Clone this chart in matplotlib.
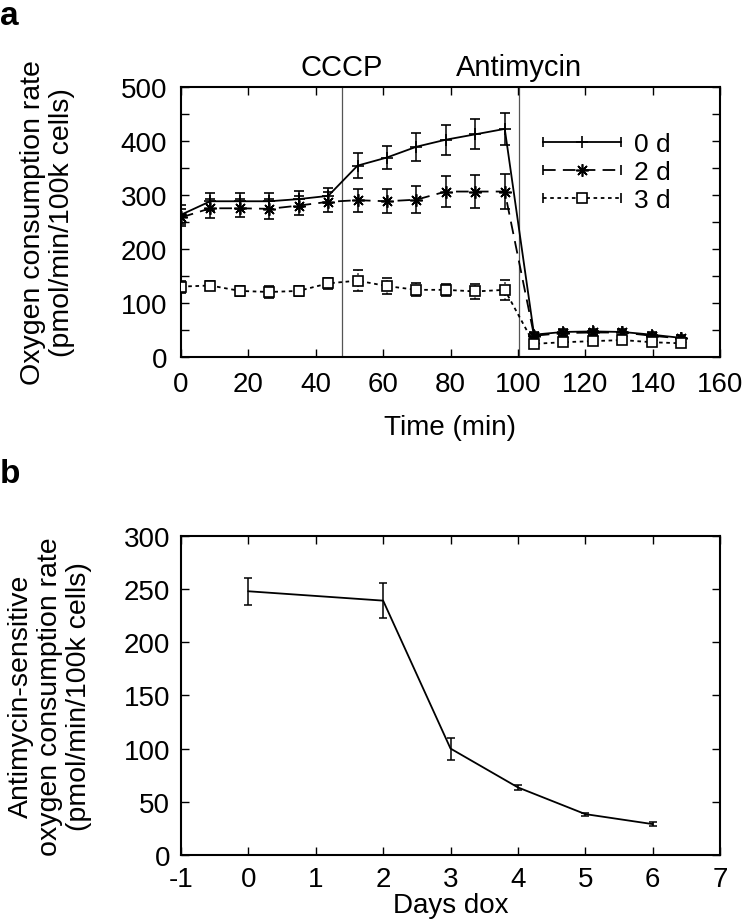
import matplotlib
matplotlib.use("Agg")
import matplotlib.pyplot as plt
from matplotlib.lines import Line2D
from matplotlib.legend_handler import HandlerLine2D
from matplotlib.ticker import MultipleLocator

plt.rcParams['font.family'] = ['Liberation Sans', 'DejaVu Sans']
plt.rcParams['font.size'] = 20
plt.rcParams['axes.unicode_minus'] = False

# panel a: oxygen consumption over time
time_min = [0, 8.7, 17.5, 26.2, 34.9, 43.7, 52.4, 61.1, 69.9, 78.6, 87.4, 96.1,
            104.8, 113.5, 122.3, 131.0, 139.7, 148.5]
ocr_0d = [264, 289, 289, 289, 293, 299, 355, 370, 390, 403, 413, 423,
          42, 47, 48, 47, 42, 36]
err_0d = [18, 16, 15, 15, 15, 14, 23, 22, 26, 28, 28, 29, 5, 5, 5, 5, 5, 5]
ocr_2d = [259, 276, 276, 275, 281, 288, 291, 289, 292, 307, 307, 307,
          40, 45, 46, 46, 40, 35]
err_2d = [16, 18, 17, 18, 18, 18, 21, 22, 25, 29, 30, 32, 5, 5, 5, 5, 5, 5]
ocr_3d = [131, 133, 123, 121, 123, 137, 142, 132, 125, 125, 122, 125,
          25, 28, 30, 32, 28, 26]
err_3d = [11, 9, 10, 11, 9, 10, 19, 14, 12, 11, 14, 19, 6, 6, 6, 6, 6, 6]
cccp_time = 47.7
antimycin_time = 100.2

# panel b: antimycin-sensitive OCR vs days of dox
days = [0, 2, 3, 4, 5, 6]
as_ocr = [247.8, 239, 100, 63.5, 38.4, 29]
as_err = [12.7, 16.7, 10.3, 2, 1.5, 2]


class CapHandler(HandlerLine2D):
    # gnuplot style legend sample: line with error caps at both ends
    def create_artists(self, legend, orig_handle, xdescent, ydescent,
                       width, height, fontsize, trans):
        arts = super().create_artists(legend, orig_handle, xdescent, ydescent,
                                      width, height, fontsize, trans)
        line = arts[0]
        xs = line.get_xdata()
        ys = line.get_ydata()
        caps = Line2D([xs[0], xs[-1]], [ys[0], ys[-1]], ls='none', marker='|',
                      ms=7, mew=1.2, color='k')
        caps.set_transform(trans)
        return list(arts) + [caps]


def style_axes(ax, pad=10):
    for s in ax.spines.values():
        s.set_linewidth(1.5)
    ax.tick_params(which='both', direction='in', top=True, right=True,
                   length=6, width=1, labelsize=20, pad=pad)


fig = plt.figure(figsize=(7.48, 9.2), dpi=100)

ax1 = fig.add_axes([0.242, 0.6105, 0.7206, 0.2935])
ax1.axvline(cccp_time, color='#555555', lw=0.9, zorder=1)
ax1.axvline(antimycin_time, color='#555555', lw=0.9, zorder=1)

series = [
    (ocr_0d, err_0d, '-', '+', 9, 'k', '0 d', '-'),
    (ocr_2d, err_2d, (0, (7, 4)), (8, 2, 0), 9, 'k', '2 d', '-'),
    (ocr_3d, err_3d, (0, (2, 2)), 's', 6.5, 'white', '3 d', ':'),
]
handles = []
for vals, errs, ls, mk, ms, mfc, lab, els in series:
    eb = ax1.errorbar(time_min, vals, yerr=errs, color='k', ls=ls, lw=1.3,
                      marker=mk, ms=ms, mfc=mfc, mec='k', mew=1.2,
                      capsize=3.5, elinewidth=1.1, capthick=1.1, zorder=3)
    eb[2][0].set_linestyle(els)
    handles.append(Line2D([], [], color='k', ls=ls, lw=1.3, marker=mk, ms=ms,
                          mfc=mfc, mec='k', mew=1.2, label=lab))

ax1.set_xlim(0, 160)
ax1.set_ylim(0, 500)
ax1.xaxis.set_major_locator(MultipleLocator(20))
ax1.yaxis.set_major_locator(MultipleLocator(100))
ax1.yaxis.set_minor_locator(MultipleLocator(50))
style_axes(ax1)

ax1.text(cccp_time, 1.044, 'CCCP', transform=ax1.get_xaxis_transform(),
         ha='center', va='baseline', fontsize=21)
ax1.text(antimycin_time, 1.044, 'Antimycin', transform=ax1.get_xaxis_transform(),
         ha='center', va='baseline', fontsize=21)

ax1.legend(handles=handles, loc='upper left', bbox_to_anchor=(0.672, 0.835),
           frameon=False, borderpad=0, borderaxespad=0, handlelength=2.95,
           handletextpad=0.5, labelspacing=0.15, fontsize=19, numpoints=1,
           handler_map={Line2D: CapHandler()})

fig.text(0.602, 0.5348, 'Time (min)', ha='center', va='center', fontsize=20)
fig.text(0.064, 0.7576, 'Oxygen consumption rate\n(pmol/min/100k cells)',
         rotation=90, ha='center', va='center', ma='center', fontsize=20.5,
         linespacing=1.15)

ax2 = fig.add_axes([0.242, 0.0696, 0.7206, 0.347])
ax2.errorbar(days, as_ocr, yerr=as_err, color='k', lw=1.3, capsize=3,
             elinewidth=1.1, capthick=1.1)
ax2.set_xlim(-1, 7)
ax2.set_ylim(0, 300)
ax2.xaxis.set_major_locator(MultipleLocator(1))
ax2.yaxis.set_major_locator(MultipleLocator(50))
style_axes(ax2, pad=8)

fig.text(0.602, 0.0075, 'Days dox', ha='center', va='baseline', fontsize=20)
fig.text(0.067, 0.243,
         'Antimycin-sensitive\noxygen consumption rate\n(pmol/min/100k cells)',
         rotation=90, ha='center', va='center', ma='center', fontsize=20.5,
         linespacing=1.15)

fig.text(0.0, 0.999, 'a', fontsize=24, fontweight='bold', va='top')
fig.text(0.0, 0.475, 'b', fontsize=24, fontweight='bold', va='baseline')

fig.savefig('out.png', dpi=100)
